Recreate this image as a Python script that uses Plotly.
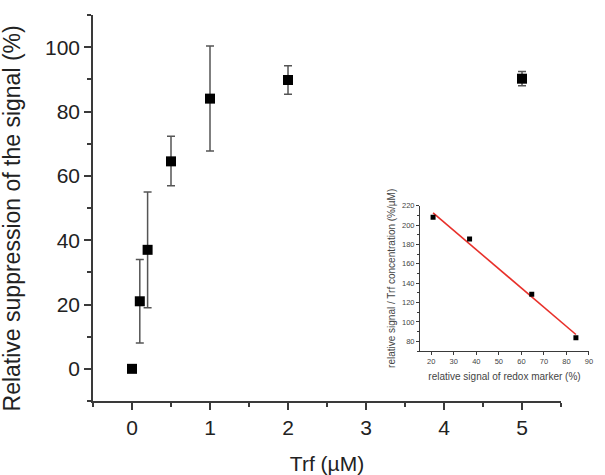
import numpy as np
import plotly.graph_objects as go

# Main data
trf_conc = [0, 0.1, 0.2, 0.5, 1, 2, 5]
suppression = [0, 21, 37, 64.5, 84, 89.8, 90.2]
err_plus = [0, 13, 18, 7.8, 16.4, 4.4, 2.2]
err_minus = [0, 13, 18, 7.6, 16.3, 4.4, 2.2]

# Inset data
inset_x = [20.8, 37, 64.6, 84.2]
inset_y = [208, 185.5, 128.7, 83.8]

AX = "#3a3a3a"
FONT = "Liberation Sans, Arial, sans-serif"

fig = go.Figure()

fig.add_trace(go.Scatter(
    x=trf_conc, y=suppression, mode="markers",
    marker=dict(symbol="square", size=10, color="black"),
    error_y=dict(type="data", array=err_plus, arrayminus=err_minus,
                 color="#555555", thickness=1.5, width=4),
    showlegend=False, xaxis="x", yaxis="y"))

# Linear fit for the inset
slope, intercept = np.polyfit(inset_x, inset_y, 1)
fx = np.array([min(inset_x), max(inset_x)])
fy = slope * fx + intercept
fig.add_trace(go.Scatter(
    x=fx, y=fy, mode="lines", line=dict(color="#e8302a", width=1.6),
    showlegend=False, xaxis="x2", yaxis="y2"))
fig.add_trace(go.Scatter(
    x=inset_x, y=inset_y, mode="markers",
    marker=dict(symbol="square", size=5, color="black"),
    showlegend=False, xaxis="x2", yaxis="y2"))

fig.update_layout(
    width=605, height=475,
    margin=dict(l=93, r=10, t=15, b=74, autoexpand=False),
    paper_bgcolor="white", plot_bgcolor="rgba(0,0,0,0)",
    font=dict(family=FONT, color="#222222"),
    xaxis=dict(domain=[0, 0.9323], range=[-0.5, 5.5], tickvals=[0, 1, 2, 3, 4, 5],
               automargin=False,
               showgrid=False, zeroline=False, showline=True, linecolor=AX, linewidth=1.5,
               ticks="outside", ticklen=7, tickwidth=1.5, tickcolor=AX,
               minor=dict(dtick=0.5, ticks="outside", ticklen=4, tickwidth=1.5, tickcolor=AX),
               tickfont=dict(size=21, color="#222222"),
               title=dict(text="Trf (µM)", font=dict(size=21, color="#222222"), standoff=19)),
    yaxis=dict(domain=[0, 1], range=[-10, 110], tickvals=[0, 20, 40, 60, 80, 100],
               automargin=False,
               showgrid=False, zeroline=False, showline=True, linecolor=AX, linewidth=1.5,
               ticks="outside", ticklen=7, tickwidth=1.5, tickcolor=AX,
               minor=dict(dtick=10, ticks="outside", ticklen=4, tickwidth=1.5, tickcolor=AX),
               tickfont=dict(size=21, color="#222222")),
    xaxis2=dict(domain=[0.6514, 0.988], range=[15, 90], anchor="y2",
                tickvals=[20, 30, 40, 50, 60, 70, 80, 90],
                showgrid=False, zeroline=False, showline=True, linecolor=AX, linewidth=1,
                ticks="outside", ticklen=3, tickwidth=1, tickcolor=AX,
                tickfont=dict(size=7.5, color="#444444"),
                title=dict(text="relative signal of redox marker (%)",
                           font=dict(size=10, color="#444444"), standoff=7)),
    yaxis2=dict(domain=[0.1295, 0.506], range=[70, 220], anchor="x2",
                tickvals=[80, 100, 120, 140, 160, 180, 200, 220],
                showgrid=False, zeroline=False, showline=True, linecolor=AX, linewidth=1,
                ticks="outside", ticklen=3, tickwidth=1, tickcolor=AX,
                minor=dict(dtick=10, ticks="outside", ticklen=2, tickwidth=1, tickcolor=AX),
                tickfont=dict(size=7.5, color="#444444"),
                title=dict(text="relative signal / Trf concentration (%/µM)",
                           font=dict(size=10, color="#444444"), standoff=4)),
    annotations=[dict(text="Relative suppression of the signal (%)", textangle=-90,
                      xref="paper", yref="paper", x=-0.1605, y=(401 - 218) / 386,
                      xanchor="center", yanchor="middle", showarrow=False,
                      font=dict(size=23, color="#222222"))],
)

fig.write_html("out.html")
